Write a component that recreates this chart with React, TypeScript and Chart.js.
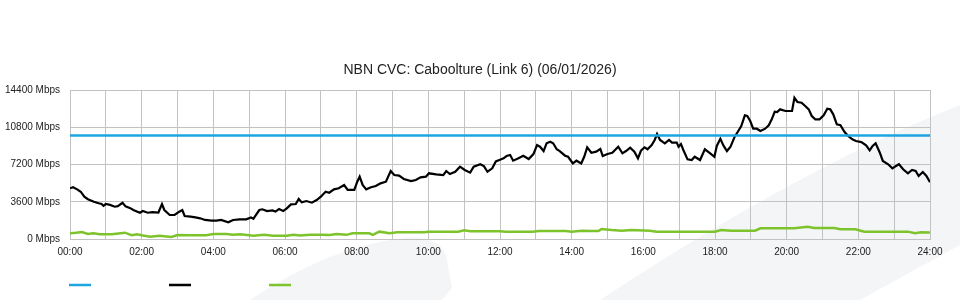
import { useEffect, useRef } from 'react';
import { Chart, registerables } from 'chart.js';

Chart.register(...registerables);

const chartTitle = 'NBN CVC: Caboolture (Link 6) (06/01/2026)';
const yTickValues = [0, 3600, 7200, 10800, 14400];
const xHourLabels = ['00:00', '02:00', '04:00', '06:00', '08:00', '10:00', '12:00', '14:00', '16:00', '18:00', '20:00', '22:00', '24:00'];

const capacityTimes = ['00:00', '24:00'];
const capacityValues = [10000, 10000];

const trafficTimes = [
  '00:00', '00:05', '00:12', '00:18', '00:24', '00:30', '00:40', '00:48', '00:53', '00:56',
  '01:00', '01:07', '01:15', '01:20', '01:28', '01:33', '01:41', '01:46', '01:57', '02:02',
  '02:10', '02:18', '02:28', '02:34', '02:38', '02:47', '02:55', '03:03', '03:08', '03:12',
  '03:22', '03:30', '03:38', '03:46', '03:57', '04:05', '04:13', '04:25', '04:33', '04:44',
  '04:55', '05:03', '05:07', '05:17', '05:22', '05:30', '05:39', '05:44', '05:50', '05:57',
  '06:03', '06:10', '06:18', '06:23', '06:28', '06:36', '06:45', '06:53', '07:00', '07:08',
  '07:14', '07:22', '07:30', '07:39', '07:45', '07:56', '08:01', '08:05', '08:10', '08:16',
  '08:24', '08:32', '08:40', '08:49', '08:57', '09:03', '09:11', '09:19', '09:31', '09:39',
  '09:47', '09:56', '10:01', '10:13', '10:25', '10:30', '10:36', '10:45', '10:53', '11:01',
  '11:10', '11:16', '11:27', '11:33', '11:39', '11:47', '11:53', '12:00', '12:06', '12:11',
  '12:17', '12:22', '12:31', '12:39', '12:48', '12:56', '13:02', '13:07', '13:13', '13:18',
  '13:24', '13:29', '13:35', '13:40', '13:49', '13:54', '14:02', '14:08', '14:16', '14:21',
  '14:26', '14:33', '14:41', '14:48', '14:52', '15:00', '15:08', '15:18', '15:25', '15:31',
  '15:38', '15:45', '15:51', '15:56', '16:02', '16:07', '16:14', '16:19', '16:23', '16:28',
  '16:36', '16:43', '16:48', '16:56', '16:59', '17:03', '17:07', '17:14', '17:21', '17:26',
  '17:35', '17:43', '17:52', '17:59', '18:03', '18:09', '18:14', '18:20', '18:26', '18:33',
  '18:39', '18:44', '18:50', '18:54', '18:59', '19:04', '19:10', '19:16', '19:24', '19:30',
  '19:35', '19:40', '19:44', '19:49', '19:58', '20:09', '20:13', '20:18', '20:25', '20:31',
  '20:37', '20:42', '20:48', '20:55', '21:02', '21:08', '21:13', '21:18', '21:24', '21:30',
  '21:37', '21:43', '21:50', '21:56', '22:05', '22:13', '22:19', '22:24', '22:29', '22:36',
  '22:41', '22:50', '22:57', '23:03', '23:08', '23:15', '23:23', '23:30', '23:36', '23:41',
  '23:48', '23:54', '24:00',
];
const trafficValues = [
  4900, 5000, 4800, 4570, 4090, 3850, 3600, 3450, 3380, 3200,
  3380, 3300, 3120, 3180, 3500, 3150, 2980, 2800, 2530, 2700,
  2540, 2600, 2560, 3380, 2800, 2320, 2330, 2640, 2800, 2220,
  2160, 2090, 2000, 1840, 1770, 1780, 1840, 1610, 1840, 1900,
  1900, 2090, 1950, 2800, 2870, 2700, 2760, 2650, 2900, 2700,
  2960, 3350, 3380, 3870, 3540, 3670, 3510, 3770, 4090, 4570,
  4470, 4800, 4900, 5220, 4740, 4740, 5540, 6020, 5220, 4800,
  5000, 5120, 5380, 5540, 6570, 6180, 6120, 5800, 5600, 5700,
  5960, 6020, 6350, 6250, 6180, 6570, 6280, 6500, 6990, 6670,
  6410, 6990, 7220, 7050, 6500, 6830, 7500, 7650, 7800, 8020,
  8120, 7570, 7800, 8050, 7730, 8210, 9080, 8920, 8500, 9250,
  9400, 9250, 8670, 8500, 8050, 7950, 7310, 7570, 7310, 7950,
  8860, 8340, 8440, 8700, 8020, 8210, 8340, 8920, 8280, 8500,
  8820, 8440, 7800, 8530, 8860, 8670, 9080, 9570, 10150, 9570,
  9250, 9570, 9310, 9310, 8920, 9180, 8600, 7700, 7630, 7950,
  7630, 8670, 8280, 7950, 8990, 9690, 9050, 8500, 8920, 9890,
  10440, 10920, 11950, 11890, 11400, 10660, 10660, 10440, 10660, 10990,
  11570, 12300, 12270, 12530, 12370, 12370, 13650, 13240, 13170, 12850,
  12530, 11890, 11570, 11570, 11950, 12590, 12530, 12050, 11090, 10990,
  10340, 9950, 9630, 9470, 9370, 9050, 8570, 8990, 9250, 8340,
  7540, 7220, 6830, 7050, 7220, 6740, 6350, 6670, 6570, 6090,
  6470, 6090, 5500,
];

const uploadTimes = [
  '00:00', '00:10', '00:20', '00:30', '00:39', '00:50', '01:10', '01:32', '01:43', '01:52',
  '02:00', '02:14', '02:30', '02:50', '03:00', '03:20', '03:48', '04:00', '04:22', '04:33',
  '04:45', '05:07', '05:25', '05:40', '06:03', '06:14', '06:25', '06:42', '07:00', '07:15',
  '07:26', '07:43', '07:53', '08:21', '08:27', '08:38', '08:55', '09:08', '09:53', '10:00',
  '10:50', '11:00', '11:10', '12:00', '12:10', '12:55', '13:05', '13:50', '14:00', '14:17',
  '14:33', '14:45', '14:50', '15:07', '15:24', '15:40', '16:11', '16:22', '17:00', '18:00',
  '18:10', '18:27', '19:07', '19:16', '20:12', '20:35', '20:46', '21:20', '21:30', '21:55',
  '22:10', '23:23', '23:35', '23:45', '24:00',
];
const uploadValues = [
  560, 600, 680, 480, 560, 460, 460, 610, 360, 460,
  360, 220, 320, 190, 390, 360, 360, 480, 480, 400,
  450, 320, 420, 320, 320, 420, 330, 420, 400, 390,
  480, 400, 550, 550, 400, 710, 550, 650, 650, 710,
  710, 840, 740, 740, 710, 710, 770, 770, 710, 800,
  770, 770, 970, 870, 800, 870, 800, 710, 710, 710,
  870, 800, 800, 1030, 1030, 1190, 1060, 1060, 940, 940,
  710, 710, 550, 650, 620,
];

const toHours = (t: string) => {
  const [h, m] = t.split(':').map(Number);
  return h + m / 60;
};
const toPoints = (times: string[], values: number[]) =>
  times.map((t, i) => ({ x: toHours(t), y: values[i] }));

const FONT = '"Liberation Sans", Arial, sans-serif';

const watermarkPlugin = {
  id: 'watermark',
  beforeDraw(chart: any) {
    const ctx = chart.ctx;
    ctx.save();
    ctx.fillStyle = '#f4f5f7';
    ctx.beginPath();
    ctx.moveTo(250, 300);
    ctx.quadraticCurveTo(330, 246, 405, 238);
    ctx.quadraticCurveTo(440, 236, 446, 256);
    ctx.lineTo(452, 288);
    ctx.lineTo(442, 300);
    ctx.closePath();
    ctx.fill();
    ctx.beginPath();
    ctx.moveTo(600, 300);
    ctx.quadraticCurveTo(800, 168, 960, 105);
    ctx.lineTo(960, 245);
    ctx.lineTo(860, 300);
    ctx.closePath();
    ctx.fill();
    ctx.restore();
  },
};

const legendPlugin = {
  id: 'lineLegend',
  afterDraw(chart: any) {
    const ctx = chart.ctx;
    ctx.save();
    chart.data.datasets.forEach((ds: any, i: number) => {
      const x0 = 69 + i * 100;
      ctx.strokeStyle = ds.borderColor;
      ctx.lineWidth = 2.5;
      ctx.beginPath();
      ctx.moveTo(x0, 285);
      ctx.lineTo(x0 + 22, 285);
      ctx.stroke();
    });
    ctx.restore();
  },
};

export default function App() {
  const ref = useRef<HTMLCanvasElement | null>(null);

  useEffect(() => {
    document.body.style.margin = '0';
    const canvas = ref.current;
    if (!canvas) return;
    const chart = new Chart(canvas, {
      type: 'line',
      data: {
        datasets: [
          {
            label: '',
            data: toPoints(capacityTimes, capacityValues),
            borderColor: '#1da5e2',
            borderWidth: 2.5,
            pointRadius: 0,
            fill: false,
          },
          {
            label: '',
            data: toPoints(trafficTimes, trafficValues),
            borderColor: '#000000',
            borderWidth: 2.2,
            pointRadius: 0,
            fill: false,
          },
          {
            label: '',
            data: toPoints(uploadTimes, uploadValues),
            borderColor: '#7dc32c',
            borderWidth: 2.5,
            pointRadius: 0,
            fill: false,
          },
        ],
      },
      options: {
        responsive: false,
        animation: false,
        layout: { padding: { left: 0, right: 0, top: 0, bottom: 0 } },
        plugins: {
          legend: { display: false },
          tooltip: { enabled: false },
          title: {
            display: true,
            text: chartTitle,
            color: '#222222',
            font: { family: FONT, size: 14, weight: 'normal' },
            padding: { top: 61.6, bottom: 11.6 },
          },
        },
        scales: {
          x: {
            type: 'linear',
            min: 0,
            max: 24,
            afterFit: (s: any) => { s.height = 61; },
            afterBuildTicks: (s: any) => {
              s.ticks = Array.from({ length: 25 }, (_, h) => ({ value: h }));
            },
            ticks: {
              autoSkip: false,
              maxRotation: 0,
              padding: 7,
              color: '#222222',
              font: { family: FONT, size: 10 },
              callback: (v: any) => (Number(v) % 2 === 0 ? xHourLabels[Number(v) / 2] : ''),
            },
            grid: { color: '#c2c2c2', lineWidth: 1, drawTicks: false },
            border: { color: '#c2c2c2' },
          },
          y: {
            min: 0,
            max: 14400,
            afterFit: (s: any) => { s.width = 70; },
            afterBuildTicks: (s: any) => {
              s.ticks = yTickValues.map((v) => ({ value: v }));
            },
            ticks: {
              padding: 10,
              color: '#222222',
              font: { family: FONT, size: 10 },
              callback: (v: any) => `${v} Mbps`,
            },
            grid: { color: '#c2c2c2', lineWidth: 1, drawTicks: false },
            border: { color: '#c2c2c2' },
          },
          yPad: {
            position: 'right',
            min: 0,
            max: 14400,
            afterFit: (s: any) => { s.width = 30; },
            ticks: { display: false },
            grid: { display: false, drawTicks: false },
            border: { display: false },
          },
        },
      },
      plugins: [watermarkPlugin, legendPlugin],
    });
    return () => chart.destroy();
  }, []);

  return (
    <div style={{ width: 960, height: 300 }}>
      <canvas ref={ref} width={960} height={300} style={{ display: 'block' }} />
    </div>
  );
}
